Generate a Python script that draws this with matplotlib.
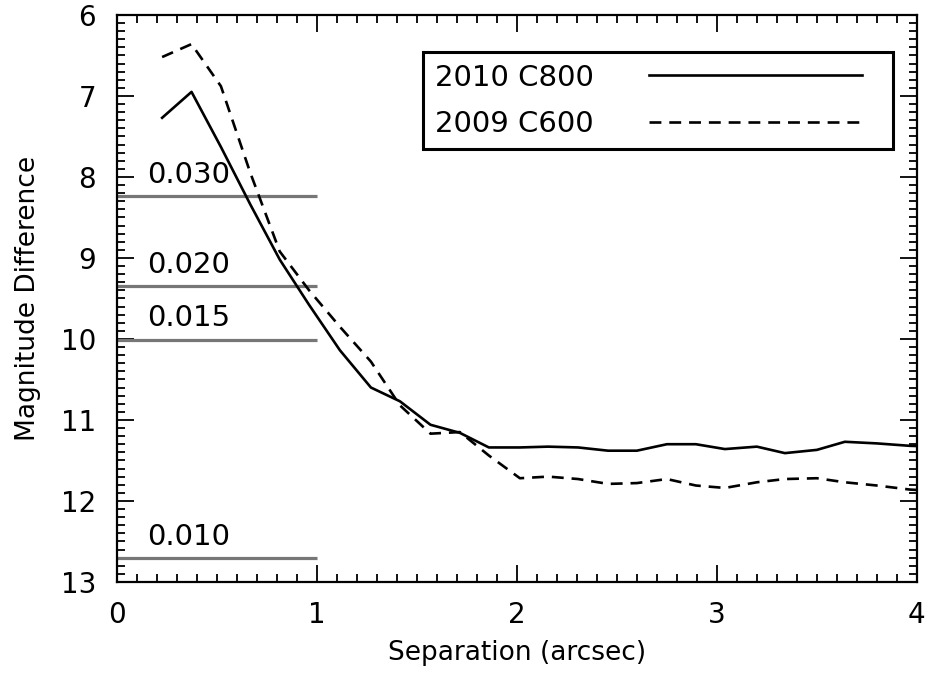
#!/usr/bin/env python3

import numpy as np
import matplotlib
matplotlib.use('Agg')
import matplotlib.pyplot as plt
from matplotlib.ticker import MultipleLocator

# separation (arcsec) of each measurement
sep = [0.226, 0.373, 0.52, 0.667, 0.814, 0.961, 1.115, 1.27, 1.415, 1.568,
       1.715, 1.86, 2.015, 2.156, 2.306, 2.456, 2.60, 2.75, 2.895, 3.04,
       3.20, 3.34, 3.50, 3.64, 3.80, 3.965, 4.115]
# 2010 C800 contrast curve
dm_2010 = [7.27, 6.95, 7.63, 8.34, 9.02, 9.58, 10.14, 10.60, 10.77, 11.06,
           11.16, 11.34, 11.34, 11.33, 11.34, 11.38, 11.38, 11.30, 11.30, 11.36,
           11.33, 11.41, 11.37, 11.27, 11.29, 11.32, 11.33]
# 2009 C600 contrast curve
dm_2009 = [6.52, 6.36, 6.88, 7.95, 8.92, 9.40, 9.85, 10.28, 10.82, 11.17,
           11.15, 11.44, 11.72, 11.70, 11.73, 11.79, 11.78, 11.73, 11.81, 11.84,
           11.77, 11.73, 11.72, 11.77, 11.81, 11.86, 11.88]
# flux ratio limits marked on the left
ratio_labels = ['0.030', '0.020', '0.015', '0.010']
ratio_dm = [8.24, 9.35, 10.01, 12.71]

if __name__ == '__main__':
    fig = plt.figure(figsize=(9.28, 6.79), dpi=100)
    ax = fig.add_axes([0.126, 0.143, 0.862, 0.835])

    for lab, dm in zip(ratio_labels, ratio_dm):
        ax.plot([0.0, 1.0], [dm, dm], color='#777777', lw=2.3, solid_capstyle='butt')
        ax.text(0.15, dm - 0.09, lab, fontsize=21, va='bottom', ha='left')

    ax.plot(sep, dm_2010, color='black', lw=1.9, label='2010 C800')
    ax.plot(sep, dm_2009, color='black', lw=1.9, ls=(0, (4.5, 3)), label='2009 C600')

    ax.set_xlim(0, 4)
    ax.set_ylim(13, 6)
    ax.xaxis.set_major_locator(MultipleLocator(1))
    ax.xaxis.set_minor_locator(MultipleLocator(0.1))
    ax.yaxis.set_major_locator(MultipleLocator(1))
    ax.yaxis.set_minor_locator(MultipleLocator(0.1))
    ax.tick_params(which='both', direction='in', top=True, right=True,
                   width=1.3, labelsize=20)
    ax.tick_params(which='major', length=12)
    ax.tick_params(axis='x', which='major', pad=14)
    ax.tick_params(axis='y', which='major', pad=15)
    ax.tick_params(which='minor', length=6)
    for s in ax.spines.values():
        s.set_linewidth(1.6)

    ax.set_xlabel('Separation (arcsec)', fontsize=19, labelpad=8)
    ax.set_ylabel('Magnitude Difference', fontsize=19, labelpad=14)

    leg = ax.legend(loc='upper left', bbox_to_anchor=(0.3825, 0.9347, 0.5875, 0.0),
                    mode='expand', markerfirst=False, fontsize=21, frameon=True,
                    fancybox=False, edgecolor='black', framealpha=1.0,
                    handlelength=7.3, handletextpad=1.9, borderpad=0.4,
                    labelspacing=0.62, borderaxespad=0.0)
    leg.get_frame().set_linewidth(2.2)

    fig.savefig('out.png', dpi=100)
